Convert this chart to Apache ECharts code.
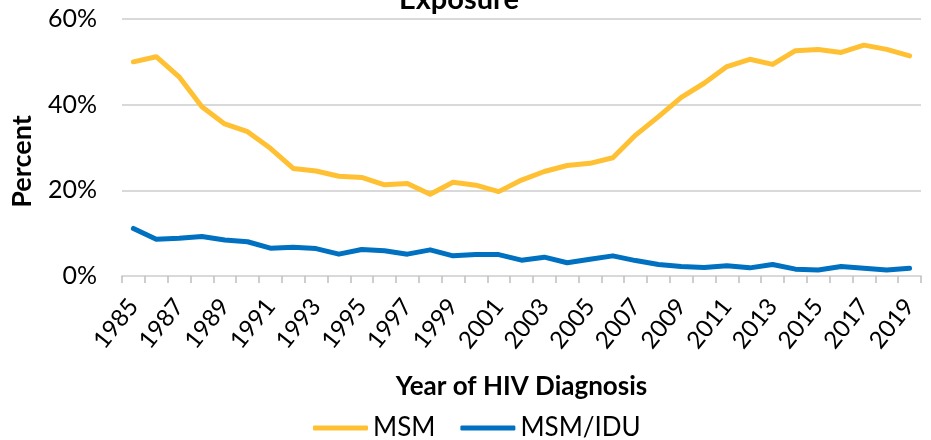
<!DOCTYPE html>
<html>
<head>
<meta charset="utf-8">
<script src="https://cdn.jsdelivr.net/npm/echarts@6/dist/echarts.min.js"></script>
<style>
  html, body { margin: 0; padding: 0; background: #fff; }
  #chart { width: 931px; height: 440px; }
</style>
</head>
<body>
<div id="chart"></div>
<script>
// 诊断年份
var years = [];
for (var y = 1985; y <= 2019; y++) years.push(String(y));

// MSM 占比 (%)
var msm = [50.0, 51.2, 46.5, 39.5, 35.5, 33.7, 29.8, 25.1, 24.5, 23.3,
  23.0, 21.3, 21.6, 19.1, 21.9, 21.2, 19.7, 22.4, 24.4, 25.8,
  26.3, 27.6, 32.9, 37.2, 41.7, 45.0, 48.9, 50.6, 49.4, 52.6,
  52.9, 52.2, 53.9, 52.9, 51.4];

// MSM/IDU 占比 (%)
var msmIdu = [11.1, 8.6, 8.8, 9.2, 8.4, 8.0, 6.5, 6.7, 6.4, 5.1,
  6.2, 5.9, 5.1, 6.1, 4.7, 5.0, 5.0, 3.7, 4.4, 3.1,
  3.9, 4.7, 3.6, 2.7, 2.2, 2.0, 2.4, 1.9, 2.7, 1.6,
  1.4, 2.2, 1.8, 1.4, 1.8];

var font = "Lato, 'Open Sans', sans-serif";

var chart = echarts.init(document.getElementById('chart'));
chart.setOption({
  animation: false,
  textStyle: { fontFamily: font },
  title: {
    text: 'Exposure',
    left: 394,
    top: -20,
    textStyle: { fontFamily: font, fontSize: 29, fontWeight: 'bold', color: '#000' }
  },
  grid: { left: 122, right: 10, top: 19, bottom: 164, outerBoundsMode: 'none' },
  legend: {
    left: 308,
    top: 410,
    itemWidth: 55,
    itemHeight: 5,
    itemGap: 25,
    icon: 'roundRect',
    textStyle: { fontFamily: font, fontSize: 26, color: '#000' },
    data: ['MSM', 'MSM/IDU']
  },
  xAxis: {
    type: 'category',
    data: years,
    boundaryGap: true,
    name: 'Year of HIV Diagnosis',
    nameLocation: 'middle',
    nameGap: 98,
    nameTextStyle: { fontFamily: font, fontSize: 26, fontWeight: 'bold', color: '#000' },
    axisLine: { lineStyle: { color: '#d9d9d9', width: 2 } },
    axisTick: { show: true, interval: 0, length: 7, lineStyle: { color: '#bfbfbf', width: 1.5 } },
    axisLabel: { interval: 1, rotate: 51, fontSize: 24, color: '#000', margin: 26 }
  },
  yAxis: {
    type: 'value',
    min: 0,
    max: 60,
    interval: 20,
    name: 'Percent',
    nameLocation: 'middle',
    nameGap: 86,
    nameRotate: 90,
    nameTextStyle: { fontFamily: font, fontSize: 27, fontWeight: 'bold', color: '#000', padding: [0, 28, 0, 0] },
    axisLine: { show: false },
    axisTick: { show: false },
    axisLabel: { formatter: '{value}%', fontSize: 25, color: '#000', margin: 25 },
    splitLine: { lineStyle: { color: '#d9d9d9', width: 2 } }
  },
  series: [
    {
      name: 'MSM',
      type: 'line',
      data: msm,
      symbol: 'none',
      lineStyle: { color: '#ffc133', width: 5, cap: 'round', join: 'round' },
      itemStyle: { color: '#ffc133' }
    },
    {
      name: 'MSM/IDU',
      type: 'line',
      data: msmIdu,
      symbol: 'none',
      lineStyle: { color: '#0070c0', width: 5, cap: 'round', join: 'round' },
      itemStyle: { color: '#0070c0' }
    }
  ]
});
</script>
</body>
</html>
